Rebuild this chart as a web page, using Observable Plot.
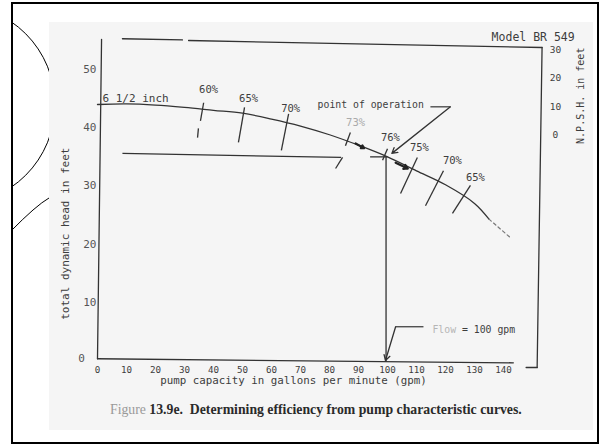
<!DOCTYPE html>
<html><head><meta charset="utf-8">
<script src="https://cdn.jsdelivr.net/npm/d3@7"></script>
<script src="https://cdn.jsdelivr.net/npm/@observablehq/plot@0.6"></script>
<style>
body{margin:0;background:#fff;}
#page{position:relative;width:600px;height:445px;overflow:hidden;}
#border{position:absolute;left:11px;top:2px;width:588px;height:442px;border:2px solid #000;box-sizing:border-box;}
#paper{position:absolute;left:49px;top:22px;width:544px;height:408px;background:#f5f5f5;}
#deco{position:absolute;left:0;top:0;}
#chart{position:absolute;left:0;top:0;}
#caption{position:absolute;left:110px;top:402px;font-family:"Liberation Serif",serif;font-size:13.75px;color:#2a2a2a;white-space:nowrap;}
</style></head><body>
<div id="page">
 <svg id="deco" width="600" height="445">
  <defs><clipPath id="clipDeco"><rect x="13" y="4" width="580" height="438"/></clipPath></defs>
  <g clip-path="url(#clipDeco)" fill="none" stroke="#000" stroke-width="1">
   <circle cx="-45" cy="104.5" r="100"/>
   <path d="M11,231 Q36,205.5 49,198"/>
  </g>
 </svg>
 <div id="paper"></div>
 <div id="chart"></div>
 <div id="caption"><span style="color:#999">Figure</span> <b>13.9e.&nbsp; Determining efficiency from pump characteristic curves.</b></div>
 <div id="border"></div>
</div>
<script>
// pump characteristic curve (6 1/2 inch impeller): capacity (gpm) vs total dynamic head (ft)
const gpm = [0,10,20,30,40,50,60,70,80,90,100,110,120,130,135];
const headFt = [44.0,44.1,43.9,43.5,43.0,42.5,41.5,40.3,38.8,37.0,35.0,32.6,30.2,27.0,24.3];
const tailGpm = [135,142.4];
const tailHead = [24.3,21.1];

// axis ticks
const xTicks = [0,10,20,30,40,50,60,70,80,90,100,110,120,130,140];
const yTicks = [0,10,20,30,40,50];
const npshTicks = [0,10,20,30];

// efficiency marks crossing the curve
const effLabels = ["60%","65%","70%","73%","76%","75%","70%","65%"];
const effLabelGpm = [38.3,52.1,66.6,89.0,101.0,111.0,122.4,130.3];
const effLabelHead = [46.6,45.0,43.3,40.9,38.3,36.6,34.4,31.4];
const effTopGpm = [36.6,50.7,65.9,87.2,100.0,110.3,119.3,128.6];
const effTopHead = [44.3,43.5,42.4,39.2,36.4,34.9,32.6,30.1];
const effBotGpm = [35.5,48.6,63.4,85.5,98.3,104.5,113.1,122.4];
const effBotHead = [41.2,37.5,36.1,36.9,34.4,28.7,26.6,25.3];

// point of operation
const opGpm = 100;
const opHead = 35;

const curve = gpm.map((g,i)=>({gpm:g, head:headFt[i]}));
const tail = tailGpm.map((g,i)=>({gpm:g, head:tailHead[i]}));
const eff = effLabels.map((t,i)=>({label:t, lx:effLabelGpm[i], ly:effLabelHead[i],
  x1:effTopGpm[i], y1:effTopHead[i], x2:effBotGpm[i], y2:effBotHead[i]}));

// frame lines of the printed chart (hand drafted, slightly skewed)
const frame = [
  {id:"left", pts:[[1.4,55.2],[0,0.3]]},
  {id:"bottom", pts:[[0,0.3],[143.4,-0.4]]},
  {id:"top1", pts:[[8.6,55.3],[29.3,55.1]]},
  {id:"top2", pts:[[31.4,55.0],[153.3,53.8]]},
  {id:"right", pts:[[153.3,53.8],[151.6,-1.2]]},
  {id:"foot", pts:[[151.6,-1.2],[147.8,-1.2]]}
].flatMap(f=>f.pts.map(p=>({id:f.id, x:p[0], y:p[1]})));

const npshToHead = n => 38.7 + n*0.49;
const ink = "#333";
const txt = "#3d3d3d";
const mono = "DejaVu Sans Mono";

const chart = Plot.plot({
  width:600, height:392,
  marginLeft:97, marginRight:97, marginTop:40, marginBottom:32,
  x:{domain:[0,140]},
  y:{domain:[0,55]},
  style:{background:"transparent", fontFamily:mono, color:txt, overflow:"visible"},
  marks:[
    Plot.line(frame, {x:"x", y:"y", z:"id", stroke:ink, strokeWidth:1.3}),
    Plot.axisX({ticks:xTicks, tickSize:0, tickPadding:6, fontSize:9.2, label:null, fill:txt}),
    Plot.axisY({ticks:yTicks.filter(d=>d>0), tickSize:0, tickPadding:1, fontSize:11, label:null, fill:"#555"}),
    Plot.text([0], {x:0, y:0, text:d=>String(d), dx:-16, dy:-2, fontSize:11, fill:"#555"}),
    Plot.text(npshTicks, {x:157.9, y:d=>npshToHead(d), text:d=>String(d), fontSize:9.5, fill:txt}),
    Plot.text(["N.P.S.H. in feet"], {x:166.6, y:45.5, text:d=>d, rotate:-90, fontSize:10, fill:txt}),
    Plot.text(["Model BR 549"], {x:135.9, y:55.5, text:d=>d, textAnchor:"start", fontSize:11.5, fill:txt}),
    Plot.text(["total dynamic head in feet"], {x:-11, y:21.8, text:d=>d, rotate:-90, fontSize:11, fill:txt}),
    Plot.text(["pump capacity in gallons per minute (gpm)"], {x:67.6, y:-3.5, text:d=>d, fontSize:10.8, fill:txt}),
    // operating lines
    Plot.link([{x1:8.6,y1:35.6,x2:84,y2:34.9},{x1:94,y1:35,x2:opGpm,y2:opHead}], {x1:"x1",y1:"y1",x2:"x2",y2:"y2", stroke:ink, strokeWidth:1.3}),
    Plot.link([{x1:84.5,y1:34.9,x2:82.1,y2:33.0}], {x1:"x1",y1:"y1",x2:"x2",y2:"y2", stroke:ink, strokeWidth:1.3}),
    Plot.ruleX([opGpm], {x:d=>d-0.5, y1:-0.3, y2:opHead, stroke:ink, strokeWidth:1.3}),
    // head curve
    Plot.line(curve, {x:"gpm", y:"head", curve:"catmull-rom", stroke:ink, strokeWidth:1.3}),
    Plot.line(tail, {x:"gpm", y:"head", stroke:"#777", strokeWidth:1.2, strokeDasharray:"3,3"}),
    Plot.text(["6 1/2 inch"], {x:1.7, y:45.0, text:d=>d, textAnchor:"start", fontSize:11, fill:txt}),
    // efficiency ticks and labels
    Plot.link(eff, {x1:"x1", y1:"y1", x2:"x2", y2:"y2", stroke:ink, strokeWidth:1.3}),
    Plot.link([{x1:34.8,y1:39.9,x2:34.5,y2:38.3}], {x1:"x1",y1:"y1",x2:"x2",y2:"y2", stroke:ink, strokeWidth:1.3}),
    Plot.text(eff, {x:"lx", y:"ly", text:"label", fontSize:10.5, fill:d=>d.label==="73%"?"#aaa":txt}),
    // flow-direction arrows on the curve
    Plot.arrow([{x1:89,y1:37.3,x2:91.9,y2:36.5},{x1:102.8,y1:34.0,x2:107.0,y2:33.0}], {x1:"x1",y1:"y1",x2:"x2",y2:"y2", stroke:"#222", strokeWidth:2.2, headLength:4}),
    // point of operation annotation
    Plot.text(["point of operation"], {x:75.9, y:44.0, text:d=>d, textAnchor:"start", fontSize:9.8, fill:txt}),
    Plot.link([{x1:114.8,y1:43.6,x2:121.7,y2:43.6}], {x1:"x1",y1:"y1",x2:"x2",y2:"y2", stroke:ink, strokeWidth:1.2}),
    Plot.arrow([{x1:121.7,y1:43.6,x2:101.5,y2:35.6}], {x1:"x1",y1:"y1",x2:"x2",y2:"y2", stroke:ink, strokeWidth:1.3, headLength:7}),
    // flow annotation
    Plot.text(["Flow"], {x:115.5, y:5.3, text:d=>d, textAnchor:"start", fontSize:9.8, fill:"#b5b5b5"}),
    Plot.text(["= 100 gpm"], {x:125.7, y:5.3, text:d=>d, textAnchor:"start", fontSize:9.8, fill:txt}),
    Plot.link([{x1:112.4,y1:5.8,x2:102.8,y2:5.8}], {x1:"x1",y1:"y1",x2:"x2",y2:"y2", stroke:ink, strokeWidth:1.2}),
    Plot.arrow([{x1:102.8,y1:5.8,x2:99.3,y2:0}], {x1:"x1",y1:"y1",x2:"x2",y2:"y2", stroke:ink, strokeWidth:1.3, headLength:7})
  ]
});
document.getElementById("chart").appendChild(chart);
</script>
</body></html>
